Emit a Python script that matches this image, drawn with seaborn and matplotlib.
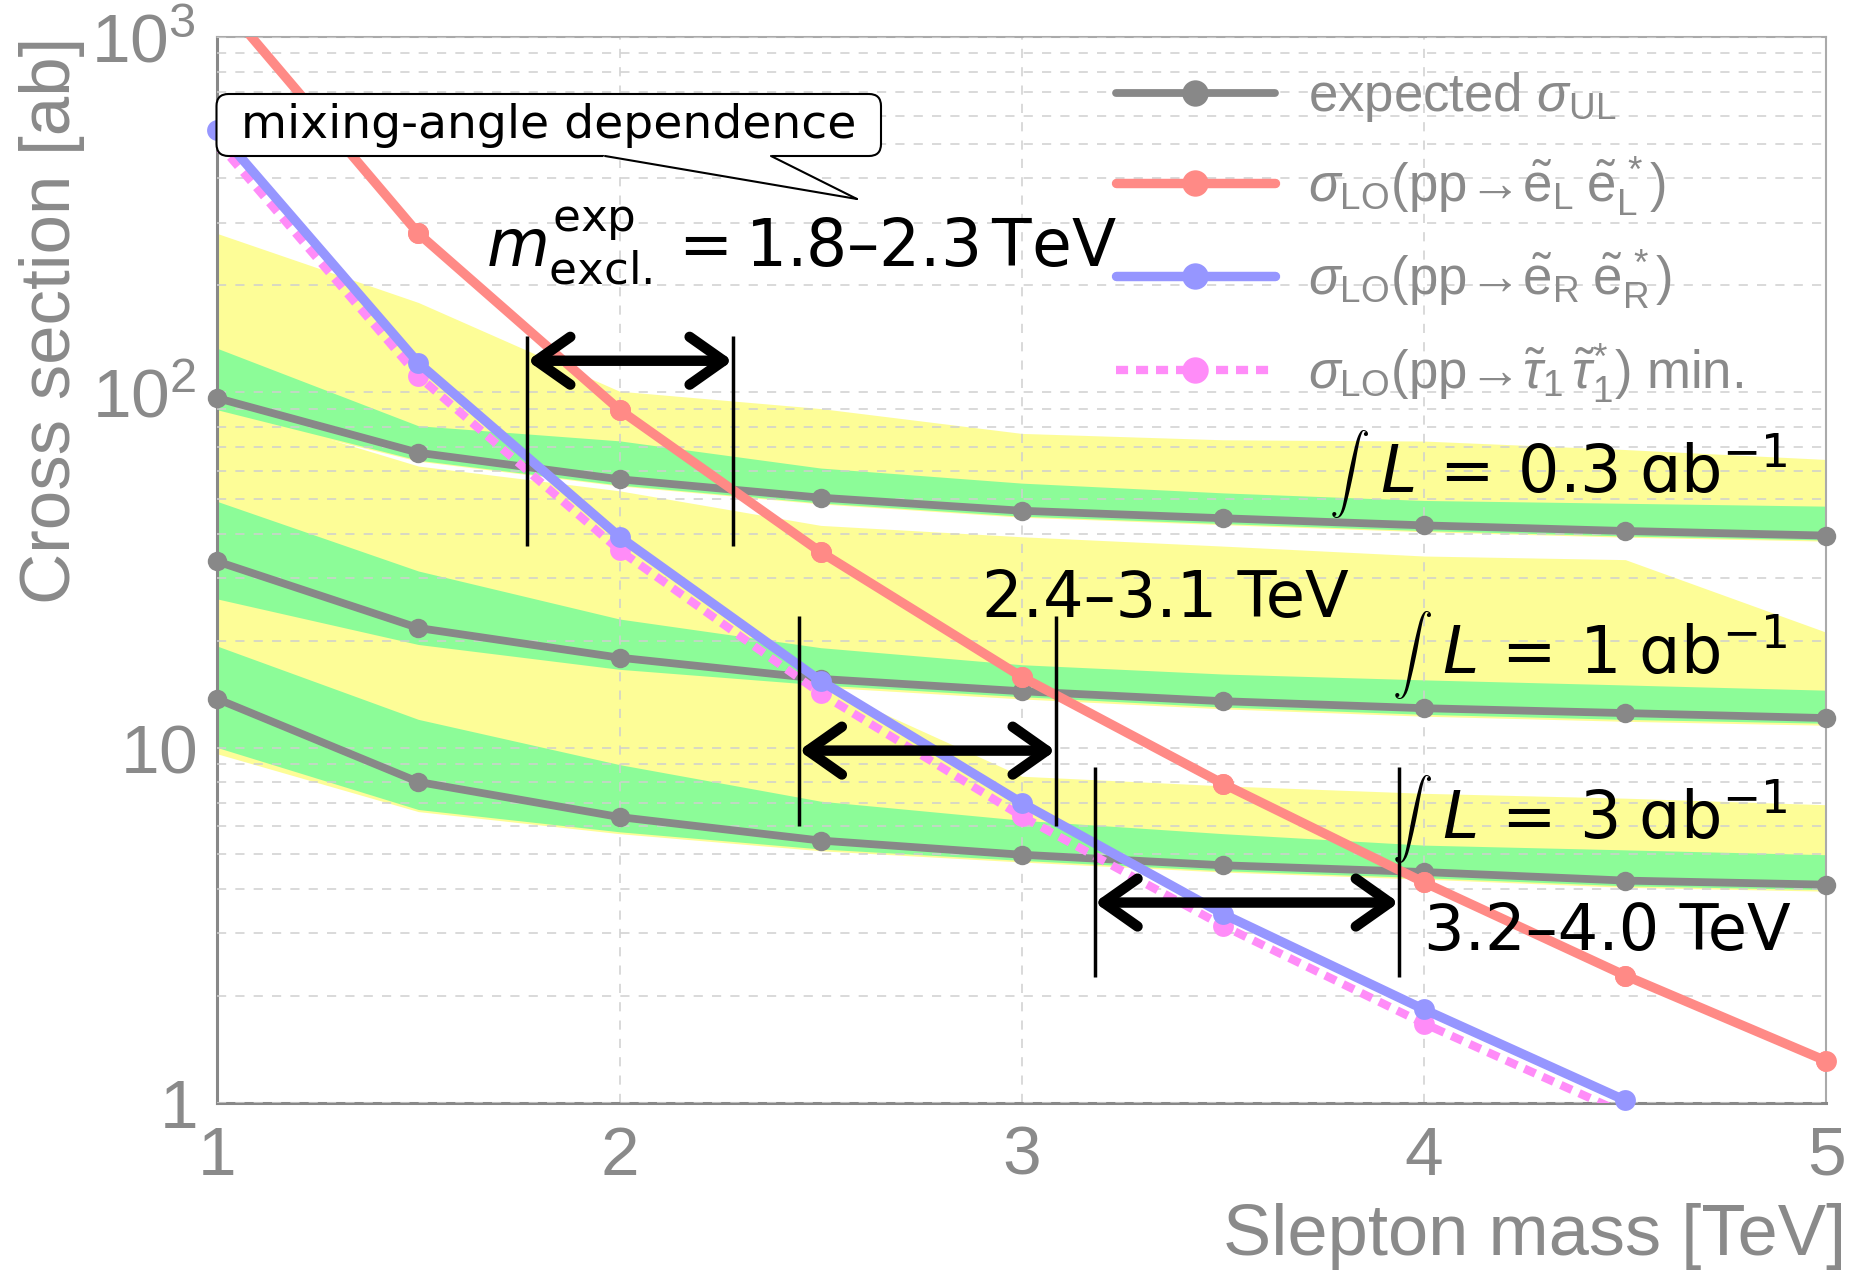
import numpy as np
import pandas as pd
import matplotlib
matplotlib.use("Agg")
import matplotlib.pyplot as plt
import seaborn as sns
from matplotlib.ticker import FixedLocator, FixedFormatter, NullFormatter
from matplotlib.patches import Polygon, FancyBboxPatch
from matplotlib.lines import Line2D
from matplotlib.transforms import IdentityTransform

# ---------------- data ----------------
mass = [1.0, 1.5, 2.0, 2.5, 3.0, 3.5, 4.0, 4.5, 5.0]

exp_03 = [96.3, 67.6, 56.9, 50.5, 46.4, 44.2, 42.2, 40.7, 39.5]
exp_1 = [33.4, 21.7, 17.9, 15.6, 14.4, 13.5, 12.9, 12.5, 12.1]
exp_3 = [13.7, 8.0, 6.37, 5.47, 4.99, 4.66, 4.46, 4.22, 4.11]

y2_hi_03 = [280, 179, 100.7, 90, 76.6, 73.5, 72.9, 69, 64.7]
g_hi_03 = [133, 80.5, 73, 61.2, 55.5, 52.1, 49.6, 48.7, 47.8]
g_lo_03 = [89.3, 64.4, 54.8, 48.8, 44.8, 42.7, 40.8, 39.4, 38.4]
y2_lo_03 = [88, 64, 54.5, 48.5, 44.5, 42.4, 40.5, 39.1, 38.1]

y2_hi_1 = [92, 62, 52.8, 42.2, 39.2, 36.9, 34.6, 33.8, 21.1]
g_hi_1 = [49.3, 31.4, 23, 19.1, 17.1, 16.1, 15.5, 15.0, 14.5]
g_lo_1 = [26.2, 19.5, 16.6, 15.0, 13.9, 13.0, 12.4, 12.0, 11.7]
y2_lo_1 = [25, 19, 16.2, 14.8, 13.7, 12.85, 12.25, 11.85, 11.55]

y2_hi_3 = [26, 20, 17, 15, 8.3, 7.8, 7.43, 7.2, 6.9]
g_hi_3 = [19.3, 12.0, 8.95, 7.06, 6.24, 5.72, 5.31, 5.15, 4.99]
g_lo_3 = [10.0, 6.69, 5.79, 5.18, 4.81, 4.5, 4.3, 4.08, 3.98]
y2_lo_3 = [9.6, 6.6, 5.72, 5.12, 4.76, 4.46, 4.26, 4.04, 3.94]

sig_eL = [1300, 280, 89.3, 35.5, 15.8, 7.91, 4.17, 2.28, 1.31]
mass_R = [1.0, 1.5, 2.0, 2.5, 3.0, 3.5, 4.0, 4.5]
sig_eR = [547, 121, 39.2, 15.4, 6.98, 3.40, 1.83, 1.015]
sig_stau = [507, 111, 35.9, 14.2, 6.4, 3.15, 1.67, 0.93]

x_ticks_major = [1.0, 1.5, 2.0, 2.5, 3.0, 3.5, 4.0, 4.5, 5.0]
x_tick_labels = ["1", "", "2", "", "3", "", "4", "", "5"]
y_ticks_major = [1, 10, 100, 1000]
y_tick_labels = [r"$\mathregular{1}$", r"$\mathregular{10}$", r"$\mathregular{10^{2}}$", r"$\mathregular{10^{3}}$"]

legend_labels = [
    r"expected $\sigma_{\mathrm{UL}}$",
    r"$\sigma_{\mathrm{LO}}(\mathrm{pp}\!\rightarrow\!\tilde{\mathrm{e}}_{\mathrm{L}}\;\tilde{\mathrm{e}}_{\mathrm{L}}^{\,*})$",
    r"$\sigma_{\mathrm{LO}}(\mathrm{pp}\!\rightarrow\!\tilde{\mathrm{e}}_{\mathrm{R}}\;\tilde{\mathrm{e}}_{\mathrm{R}}^{\,*})$",
    r"$\sigma_{\mathrm{LO}}(\mathrm{pp}\!\rightarrow\!\tilde{\tau}_{1}\,\tilde{\tau}_{1}^{*})$ min.",
]

lumi_labels = [r"$L\,=\,0.3\;$ɑb$^{-1}$", r"$L\,=\,1\;$ɑb$^{-1}$", r"$L\,=\,3\;$ɑb$^{-1}$"]

# ---------------- style ----------------
sns.set_style("white")
plt.rcParams["font.family"] = ["Liberation Sans", "DejaVu Sans"]
plt.rcParams["mathtext.fontset"] = "custom"
plt.rcParams["mathtext.rm"] = "Liberation Sans"
plt.rcParams["mathtext.it"] = "Liberation Sans:italic"
plt.rcParams["mathtext.bf"] = "Liberation Sans:bold"

GRAY = "#888888"
AXGRAY = "#8a8a8a"
YELLOW = "#fdfd97"
GREEN = "#8cfc98"
RED = "#ff8a86"
BLUE = "#9696ff"
PINK = "#ff8cf8"

W, H = 1854, 1272
fig = plt.figure(figsize=(W / 100, H / 100), dpi=100)
ax = fig.add_axes([217.2 / W, 1 - 1102.7 / H, (1826.4 - 217.2) / W, (1102.7 - 37.1) / H])
ax.set_yscale("log")
ax.set_xlim(1, 5)
ax.set_ylim(1, 1000)

# bands: yellow first, then green
for lo, hi in [(y2_lo_03, y2_hi_03), (y2_lo_1, y2_hi_1), (y2_lo_3, y2_hi_3)]:
    ax.fill_between(mass, lo, hi, color=YELLOW, lw=0, zorder=1)
for lo, hi in [(g_lo_03, g_hi_03), (g_lo_1, g_hi_1), (g_lo_3, g_hi_3)]:
    ax.fill_between(mass, lo, hi, color=GREEN, lw=0, zorder=1.1)

# grid
ax.set_axisbelow(False)
ax.yaxis.grid(True, which="both", color="#cfcfcf", lw=1.1, linestyle=(0, (6, 6)), zorder=2)
ax.xaxis.grid(False)
for xv in [2, 3, 4]:
    ax.axvline(xv, color="#cfcfcf", lw=1.1, linestyle=(0, (6, 6)), zorder=2)

# expected lines
for vals in [exp_03, exp_1, exp_3]:
    sns.lineplot(x=mass, y=vals, ax=ax, color=GRAY, lw=5.6, marker="o", markersize=14,
                 markeredgewidth=0, sort=False, errorbar=None, clip_on=False, zorder=4)

# stau (dashed pink)
sns.lineplot(x=mass_R, y=sig_stau, ax=ax, color=PINK, lw=6, marker="o", markersize=15,
             markeredgewidth=0, sort=False, errorbar=None, linestyle=(0, (1.45, 0.95)), zorder=5)
# eR (blue)
sns.lineplot(x=mass_R, y=sig_eR, ax=ax, color=BLUE, lw=6.8, marker="o", markersize=15,
             markeredgewidth=0, sort=False, errorbar=None, clip_on=False, zorder=6)
# eL (red)
sns.lineplot(x=mass, y=sig_eL, ax=ax, color=RED, lw=6.8, marker="o", markersize=15,
             markeredgewidth=0, sort=False, errorbar=None, zorder=7)
inr = [(m, v) for m, v in zip(mass, sig_eL) if v <= 1000]
ax.plot([p[0] for p in inr], [p[1] for p in inr], "o", color=RED, ms=15, mew=0, clip_on=False, zorder=7)

# ticks
ax.xaxis.set_major_locator(FixedLocator(x_ticks_major))
ax.xaxis.set_major_formatter(FixedFormatter(x_tick_labels))
ax.xaxis.set_minor_locator(FixedLocator([1 + 0.1 * i for i in range(41) if i % 5 != 0]))
ax.yaxis.set_major_locator(FixedLocator(y_ticks_major))
ax.yaxis.set_major_formatter(FixedFormatter(y_tick_labels))
ax.yaxis.set_minor_locator(FixedLocator([m * 10 ** e for e in range(3) for m in range(2, 10)]))
ax.yaxis.set_minor_formatter(NullFormatter())
ax.tick_params(axis="x", which="major", direction="in", length=23, width=2.2, color=GRAY,
               labelsize=50, labelcolor=AXGRAY, pad=16, top=False)
ax.tick_params(axis="x", which="minor", direction="in", length=11, width=2.2, color=GRAY, top=False)
ax.tick_params(axis="y", which="major", direction="in", length=33, width=2.2, color=GRAY,
               labelsize=50, labelcolor=AXGRAY, pad=15, right=False)
ax.tick_params(axis="y", which="minor", direction="in", length=16.5, width=2.2, color=GRAY, right=False)

for side in ["left", "bottom"]:
    ax.spines[side].set_color(GRAY)
    ax.spines[side].set_linewidth(2.2)
for side in ["top", "right"]:
    ax.spines[side].set_color("#aaaaaa")
    ax.spines[side].set_linewidth(1.5)
    ax.spines[side].set_visible(True)

ax.set_xlabel("Slepton mass [TeV]", fontsize=52, color=AXGRAY, loc="right")
ax.xaxis.set_label_coords(1.012, -0.094)
ax.set_ylabel("Cross section [ab]", fontsize=51, color=AXGRAY, loc="top")
ax.yaxis.set_label_coords(-0.082, 1.0)

# legend
handles = [
    Line2D([], [], color=GRAY, lw=5.6, marker="o", ms=19, mew=0),
    Line2D([], [], color=RED, lw=6.8, marker="o", ms=19, mew=0),
    Line2D([], [], color=BLUE, lw=6.8, marker="o", ms=19, mew=0),
    Line2D([], [], color=PINK, lw=6, marker="o", ms=19, mew=0, linestyle=(0, (1.45, 0.95))),
]
leg = ax.legend(handles, legend_labels, loc="upper left", bbox_to_anchor=(1116 / W, 1 - 70 / H),
                bbox_transform=fig.transFigure, frameon=False, fontsize=38, labelcolor=AXGRAY,
                handlelength=3.01, handletextpad=0.62, labelspacing=0.565, borderpad=0, borderaxespad=0)
leg.set_zorder(20)

# annotations
DV = dict(family="DejaVu Sans", math_fontfamily="dejavusans", color="black", zorder=15)
ax.text(1.667, 225, r"$m^{\mathrm{exp}}_{\mathrm{excl.}} = 1.8$–$2.3\,$TeV", ha="left", va="baseline", fontsize=46.5, **DV)
lumi_pos = [(4.904, 52.1), (4.904, 16.1), (4.904, 5.555)]
int_pos = [(3.863, 58.9), (4.020, 18.27), (4.020, 6.28)]
for lab, (lx, ly), (ix, iy) in zip(lumi_labels, lumi_pos, int_pos):
    ax.text(lx, ly, lab, ha="right", va="baseline", fontsize=47, **DV)
    ax.text(ix, iy, r"$\int$", ha="right", va="center", fontsize=29, family="DejaVu Sans",
            math_fontfamily="cm", color="black", zorder=15)
ax.text(2.900, 23.24, "2.4–3.1 TeV", ha="left", va="baseline", fontsize=46, **DV)
ax.text(3.999, 2.684, "3.2–4.0 TeV", ha="left", va="baseline", fontsize=46, **DV)

arrows = [
    (1.771, 2.281, 122.7, 144, 36.9),
    (2.446, 3.084, 9.8, 23.5, 6.01),
    (3.181, 3.937, 3.66, 8.83, 2.26),
]
for xl, xr, ya, yb_hi, yb_lo in arrows:
    for xv in (xl, xr):
        ax.plot([xv, xv], [yb_lo, yb_hi], color="black", lw=2.5, zorder=14, solid_capstyle="butt")
    ax.annotate("", xy=(xr, ya), xytext=(xl, ya), zorder=14,
                arrowprops=dict(arrowstyle="<->,head_length=1.22,head_width=0.86", lw=7.5, color="black",
                                shrinkA=0, shrinkB=0, mutation_scale=20, capstyle="round", joinstyle="round"))

# callout box
box = FancyBboxPatch((216.5, H - 156), 664.5, 62, boxstyle="round,pad=0,rounding_size=12",
                     fc="white", ec="black", lw=1.5, transform=IdentityTransform(), zorder=30)
fig.add_artist(box)
tail = Polygon([(607, H - 150), (769, H - 150), (773, H - 157.5), (857, H - 199), (603, H - 157.5)],
               closed=True, fc="white", ec="none", transform=IdentityTransform(), zorder=31)
fig.add_artist(tail)
for bx in (605, 771):
    fig.add_artist(Line2D([bx, 857], [H - 156, H - 199], color="black", lw=1.5,
                          transform=IdentityTransform(), zorder=32))
fig.text(548.7 / W, 1 - 126 / H, "mixing-angle dependence", ha="center", va="center", fontsize=34,
         family="DejaVu Sans", color="black", zorder=33)

fig.savefig("out.png", dpi=100)
